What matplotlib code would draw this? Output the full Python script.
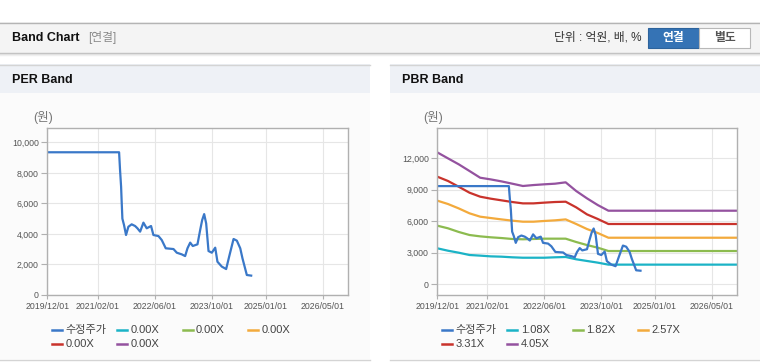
import pandas as pd
import matplotlib
matplotlib.use('Agg')
import matplotlib.pyplot as plt
import matplotlib.dates as mdates
from matplotlib.patches import Rectangle
from matplotlib.lines import Line2D
from matplotlib.ticker import FuncFormatter

plt.rcParams['font.family'] = ['Liberation Sans', 'Noto Sans CJK KR']

# adjusted close price (수정주가)
price_dates = ['2019-12-01', '2021-08-03', '2021-08-11', '2021-08-20', '2021-08-25',
               '2021-08-31', '2021-09-14', '2021-10-01', '2021-10-21', '2021-11-18',
               '2021-12-17', '2022-01-06', '2022-01-29', '2022-02-26', '2022-03-26',
               '2022-05-02', '2022-05-22', '2022-07-04', '2022-08-01', '2022-09-04',
               '2022-11-09', '2022-12-07', '2023-01-19', '2023-02-16', '2023-03-08',
               '2023-03-31', '2023-04-22', '2023-06-01', '2023-06-24', '2023-07-11',
               '2023-07-28', '2023-08-14', '2023-09-03', '2023-10-01', '2023-10-30',
               '2023-11-18', '2023-12-25', '2024-01-31', '2024-02-29', '2024-04-03',
               '2024-05-01', '2024-05-30', '2024-06-18', '2024-07-25', '2024-08-31']
price = [9350, 9350, 8200, 7100, 6100, 5000, 4580, 3930, 4470, 4630,
         4520, 4370, 4150, 4740, 4370, 4520, 3930, 3860, 3600, 3060,
         3010, 2770, 2660, 2550, 3060, 3430, 3210, 3320, 4260, 4910,
         5300, 4690, 2880, 2770, 3100, 2180, 1860, 1700, 2620, 3670,
         3560, 3060, 2400, 1310, 1270]

# PBR band lines
band_dates = ['2019-12-01', '2020-03-01', '2020-06-01', '2020-09-01', '2020-12-01',
              '2021-03-01', '2021-06-01', '2021-09-01', '2021-12-01', '2022-03-01',
              '2022-06-01', '2022-09-01', '2022-12-01', '2023-03-01', '2023-06-01',
              '2023-09-01', '2023-12-01', '2026-12-01']
pbr_108 = [3410, 3180, 2990, 2770, 2710, 2640, 2610, 2550, 2510, 2510,
           2510, 2550, 2580, 2360, 2200, 2040, 1850, 1850]
pbr_182 = [5570, 5320, 4970, 4680, 4550, 4460, 4390, 4300, 4270, 4300,
           4330, 4330, 4330, 4010, 3720, 3470, 3150, 3150]
pbr_257 = [7960, 7640, 7220, 6750, 6430, 6300, 6170, 6050, 5950, 5950,
           6020, 6080, 6170, 5730, 5250, 4870, 4420, 4420]
pbr_331 = [10250, 9840, 9290, 8720, 8340, 8150, 7990, 7830, 7700, 7700,
           7770, 7830, 7860, 7320, 6650, 6210, 5730, 5730]
pbr_405 = [12570, 12000, 11430, 10790, 10150, 9990, 9800, 9580, 9360, 9450,
           9520, 9580, 9710, 8880, 8180, 7540, 7000, 7000]

per_labels = ['수정주가', '0.00X', '0.00X', '0.00X', '0.00X', '0.00X']
pbr_labels = ['수정주가', '1.08X', '1.82X', '2.57X', '3.31X', '4.05X']
colors = ['#3a78c8', '#1bb3c6', '#8cbb4f', '#f3aa3c', '#c9332c', '#94529f']

x_ticks = ['2019-12-01', '2021-02-01', '2022-06-01', '2023-10-01', '2025-01-01', '2026-05-01']
x_range = ['2019-12-01', '2026-12-03']

W, H = 760, 364
fig = plt.figure(figsize=(W / 100, H / 100), dpi=100)
fig.patch.set_facecolor('white')


def rect(x, y, w, h, fc, ec='none', lw=0):
    fig.add_artist(Rectangle((x / W, 1 - (y + h) / H), w / W, h / H,
                             transform=fig.transFigure, facecolor=fc,
                             edgecolor=ec, linewidth=lw, zorder=-2))


def hline(x0, x1, y, color, lw=1):
    fig.add_artist(Line2D([x0 / W, x1 / W], [1 - y / H, 1 - y / H],
                          transform=fig.transFigure, color=color, linewidth=lw, zorder=-1))


def text(x, y, s, **kw):
    fig.text(x / W, 1 - y / H, s, va='center', **kw)


# header bar
rect(0, 22, 760, 31, '#f4f4f4')
hline(0, 760, 22.5, '#b4b4b4')
hline(0, 760, 53, '#bdbdbd')
hline(0, 760, 54, '#dedede')
hline(0, 760, 55, '#efefef')
text(12, 38, 'Band Chart', fontsize=9, fontweight='bold', color='#111111')
text(88, 38, '[연결]', fontsize=8.5, color='#8a8a8a')
text(641, 38, '단위 : 억원, 배, %', fontsize=8.5, color='#333333', ha='right')
rect(648, 28.5, 51, 19, '#3573b5', ec='#2d639c', lw=0.8)
rect(699, 28.5, 51, 19, 'white', ec='#b8b8b8', lw=0.8)
text(673.5, 38.5, '연결', fontsize=8.5, fontweight='bold', color='white', ha='center')
text(724.5, 38.5, '별도', fontsize=8.5, fontweight='bold', color='#555555', ha='center')

# panels
panels = [
    dict(x0=0, x1=370, title='PER Band', ax=(47.3, 128.3, 348, 295),
         ylim=(0, 10920), yticks=[0, 2000, 4000, 6000, 8000, 10000],
         labels=per_labels, bands=[]),
    dict(x0=390, x1=760, title='PBR Band', ax=(437.3, 128.3, 737, 295),
         ylim=(-1050, 14870), yticks=[0, 3000, 6000, 9000, 12000],
         labels=pbr_labels, bands=[pbr_108, pbr_182, pbr_257, pbr_331, pbr_405]),
]

pdates = pd.to_datetime(price_dates)
bdates = pd.to_datetime(band_dates)

for p in panels:
    x0, x1 = p['x0'], p['x1']
    rect(x0, 64, x1 - x0, 295, '#fbfbfb')
    rect(x0, 64, x1 - x0, 29, '#eef1f6')
    hline(x0, x1, 64.5, '#d4d4d4')
    hline(x0, x1, 359.5, '#d4d4d4')
    text(x0 + 12, 80, p['title'], fontsize=9, fontweight='bold', color='#111111')
    text(x0 + 33, 117, '(원)', fontsize=9, color='#777777')

    l, t, r, b = p['ax']
    ax = fig.add_axes([l / W, 1 - b / H, (r - l) / W, (b - t) / H])
    ax.set_zorder(2)
    ax.set_facecolor('white')

    for band, c in zip(p['bands'], colors[1:]):
        ax.plot(bdates, band, color=c, linewidth=1.6, solid_joinstyle='round')
    ax.plot(pdates, price, color=colors[0], linewidth=1.6, solid_joinstyle='round')

    ax.set_xlim(pd.to_datetime(x_range[0]), pd.to_datetime(x_range[1]))
    ax.set_ylim(*p['ylim'])
    ax.set_xticks(pd.to_datetime(x_ticks))
    ax.xaxis.set_major_formatter(mdates.DateFormatter('%Y/%m/%d'))
    ax.set_yticks(p['yticks'])
    ax.yaxis.set_major_formatter(FuncFormatter(lambda v, pos: f'{v:,.0f}'))
    ax.grid(True, color='#e6e6e6', linewidth=0.8)
    ax.set_axisbelow(True)
    for s in ax.spines.values():
        s.set_color('#b0b0b0')
        s.set_linewidth(1)
    ax.tick_params(axis='both', colors='#b0b0b0', labelcolor='#555555', labelsize=6.3)
    ax.tick_params(axis='x', length=3, pad=2)
    ax.tick_params(axis='y', length=4, pad=2)

    # legend, row-major, fixed column spacing
    for i, lab in enumerate(p['labels']):
        lx = x0 + 52 + (i % 4) * 65.3
        ly = 330 + (i // 4) * 14
        fig.add_artist(Line2D([lx / W, (lx + 10) / W], [1 - ly / H, 1 - ly / H],
                              transform=fig.transFigure, color=colors[i], linewidth=1.8))
        text(lx + 13.5, ly, lab, fontsize=8, color='#444444')

fig.savefig('out.png', dpi=100)
